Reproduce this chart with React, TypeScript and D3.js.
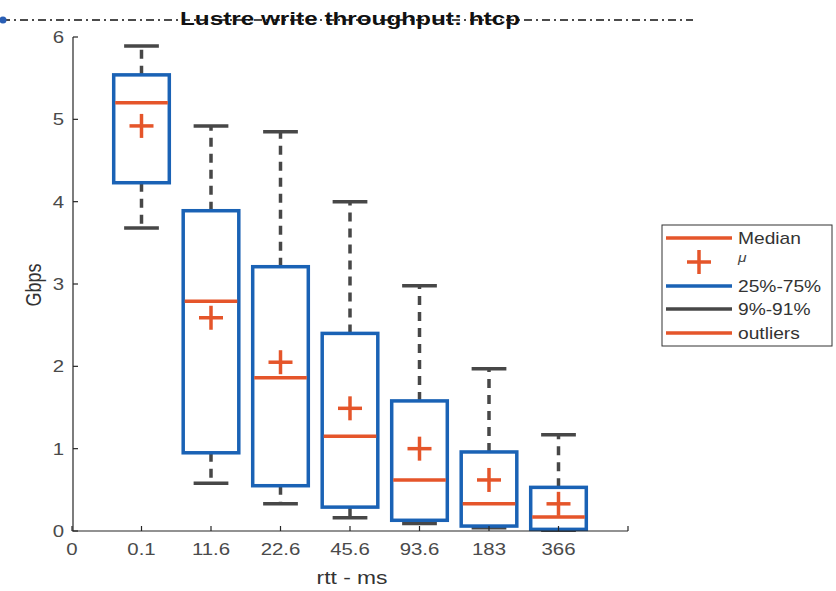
import React from "react";
import * as d3 from "d3";

const categories = ["0.1", "11.6", "22.6", "45.6", "93.6", "183", "366"];
const xTickLabels = ["0", "0.1", "11.6", "22.6", "45.6", "93.6", "183", "366", ""];
const whiskerHigh = [5.89, 4.92, 4.85, 4.0, 2.98, 1.97, 1.17];
const q3Values = [5.54, 3.89, 3.21, 2.4, 1.58, 0.96, 0.53];
const medianValues = [5.2, 2.79, 1.86, 1.15, 0.62, 0.33, 0.17];
const meanValues = [4.92, 2.59, 2.05, 1.49, 1.0, 0.62, 0.33];
const q1Values = [4.23, 0.95, 0.55, 0.29, 0.13, 0.06, 0.02];
const whiskerLow = [3.68, 0.58, 0.33, 0.16, 0.09, 0.04, 0.01];
const yTicks = [0, 1, 2, 3, 4, 5, 6];
const legendItems = ["Median", "μ", "25%-75%", "9%-91%", "outliers"];

const BLUE = "#1a62b5";
const ORANGE = "#e5552a";
const GRAY = "#474747";
const FONT = "Liberation Sans, Arial, Helvetica, sans-serif";
const SX = 1.2;

function T(props: {
  x: number;
  y: number;
  size: number;
  anchor?: string;
  fill?: string;
  italic?: boolean;
  rotate?: number;
  children: React.ReactNode;
}) {
  const r = props.rotate ? ` rotate(${props.rotate})` : "";
  return (
    <text
      transform={`translate(${props.x},${props.y})${r} scale(${props.rotate ? 1 : SX},${props.rotate ? SX : 1})`}
      textAnchor={props.anchor || "start"}
      fontSize={props.size}
      fill={props.fill || "#444"}
      fontStyle={props.italic ? "italic" : "normal"}
    >
      {props.children}
    </text>
  );
}

export default function App() {
  const x = d3.scaleLinear().domain([0, 8]).range([72, 628]);
  const y = d3.scaleLinear().domain([0, 6]).range([531, 37]);
  const boxW = x(0.8) - x(0);
  const capW = x(0.5) - x(0);
  const plus = 12;

  const data = categories.map((c, i) => ({
    c,
    pos: i + 1,
    hi: whiskerHigh[i],
    q3: q3Values[i],
    med: medianValues[i],
    mean: meanValues[i],
    q1: q1Values[i],
    lo: whiskerLow[i],
  }));

  return (
    <svg
      width={836}
      height={591}
      style={{ position: "absolute", left: 0, top: 0, background: "#fff" }}
      fontFamily={FONT}
    >
      <rect width={836} height={591} fill="#fff" />
      {/* title dash-dot line */}
      <line x1={2} x2={693} y1={20} y2={20} stroke="#111" strokeWidth={1.5} strokeDasharray="8 4 2 4" />
      <circle cx={3} cy={20} r={3.5} fill="#2a5fb5" />
      <text
        x={350}
        y={25}
        textAnchor="middle"
        fontWeight="bold"
        fontSize={19}
        fill="#111"
        textLength={340}
        lengthAdjust="spacingAndGlyphs"
      >
        Lustre write throughput: htcp
      </text>

      {/* boxes */}
      {data.map((d) => {
        const cx = x(d.pos);
        return (
          <g key={d.c}>
            <line x1={cx} x2={cx} y1={y(d.q3)} y2={y(d.hi)} stroke={GRAY} strokeWidth={3.5} strokeDasharray="9 7" />
            <line x1={cx} x2={cx} y1={y(d.q1)} y2={y(d.lo)} stroke={GRAY} strokeWidth={3.5} strokeDasharray="9 7" />
            <line x1={cx - capW / 2} x2={cx + capW / 2} y1={y(d.hi)} y2={y(d.hi)} stroke={GRAY} strokeWidth={3.5} />
            <line x1={cx - capW / 2} x2={cx + capW / 2} y1={y(d.lo)} y2={y(d.lo)} stroke={GRAY} strokeWidth={3.5} />
            <rect
              x={cx - boxW / 2}
              y={y(d.q3)}
              width={boxW}
              height={y(d.q1) - y(d.q3)}
              fill="none"
              stroke={BLUE}
              strokeWidth={3.5}
            />
            <line x1={cx - boxW / 2 + 1.5} x2={cx + boxW / 2 - 1.5} y1={y(d.med)} y2={y(d.med)} stroke={ORANGE} strokeWidth={3.5} />
            <line x1={cx - plus} x2={cx + plus} y1={y(d.mean)} y2={y(d.mean)} stroke={ORANGE} strokeWidth={3.5} />
            <line x1={cx} x2={cx} y1={y(d.mean) - plus} y2={y(d.mean) + plus} stroke={ORANGE} strokeWidth={3.5} />
          </g>
        );
      })}

      {/* axes */}
      <line x1={72} x2={628} y1={531} y2={531} stroke="#262626" strokeWidth={1.2} />
      <line x1={73} x2={73} y1={37} y2={531} stroke="#262626" strokeWidth={1.2} />
      {xTickLabels.map((t, i) => (
        <g key={"xt" + i}>
          <line x1={x(i)} x2={x(i)} y1={531} y2={526} stroke="#262626" strokeWidth={1.2} />
          <T x={x(i)} y={555} size={17} anchor="middle" fill="#4a4a4a">
            {t}
          </T>
        </g>
      ))}
      {yTicks.map((t) => (
        <g key={"yt" + t}>
          <line x1={73} x2={78} y1={y(t)} y2={y(t)} stroke="#262626" strokeWidth={1.2} />
          <T x={64} y={y(t) + 6} size={17} anchor="end" fill="#4a4a4a">
            {t}
          </T>
        </g>
      ))}
      <T x={352} y={584} size={19} anchor="middle" fill="#333">
        rtt - ms
      </T>
      <T x={41} y={285} size={18} anchor="middle" fill="#333" rotate={-90}>
        Gbps
      </T>

      {/* legend */}
      <rect x={662} y={225} width={170} height={121} fill="#fff" stroke="#333" strokeWidth={1} />
      {legendItems.map((name, i) => {
        const ly = [238, 262, 286, 309, 333][i];
        const color = [ORANGE, ORANGE, BLUE, GRAY, ORANGE][i];
        return (
          <g key={name}>
            {i === 1 ? (
              <g>
                <line x1={687} x2={711} y1={ly} y2={ly} stroke={color} strokeWidth={3.5} />
                <line x1={699} x2={699} y1={ly - 12} y2={ly + 12} stroke={color} strokeWidth={3.5} />
              </g>
            ) : (
              <line x1={666} x2={732} y1={ly} y2={ly} stroke={color} strokeWidth={3.5} />
            )}
            {i === 1 ? (
              <T x={738} y={ly} size={13} italic fill="#444">
                {name}
              </T>
            ) : (
              <T x={738} y={ly + 6} size={16} fill="#333">
                {name}
              </T>
            )}
          </g>
        );
      })}
    </svg>
  );
}
